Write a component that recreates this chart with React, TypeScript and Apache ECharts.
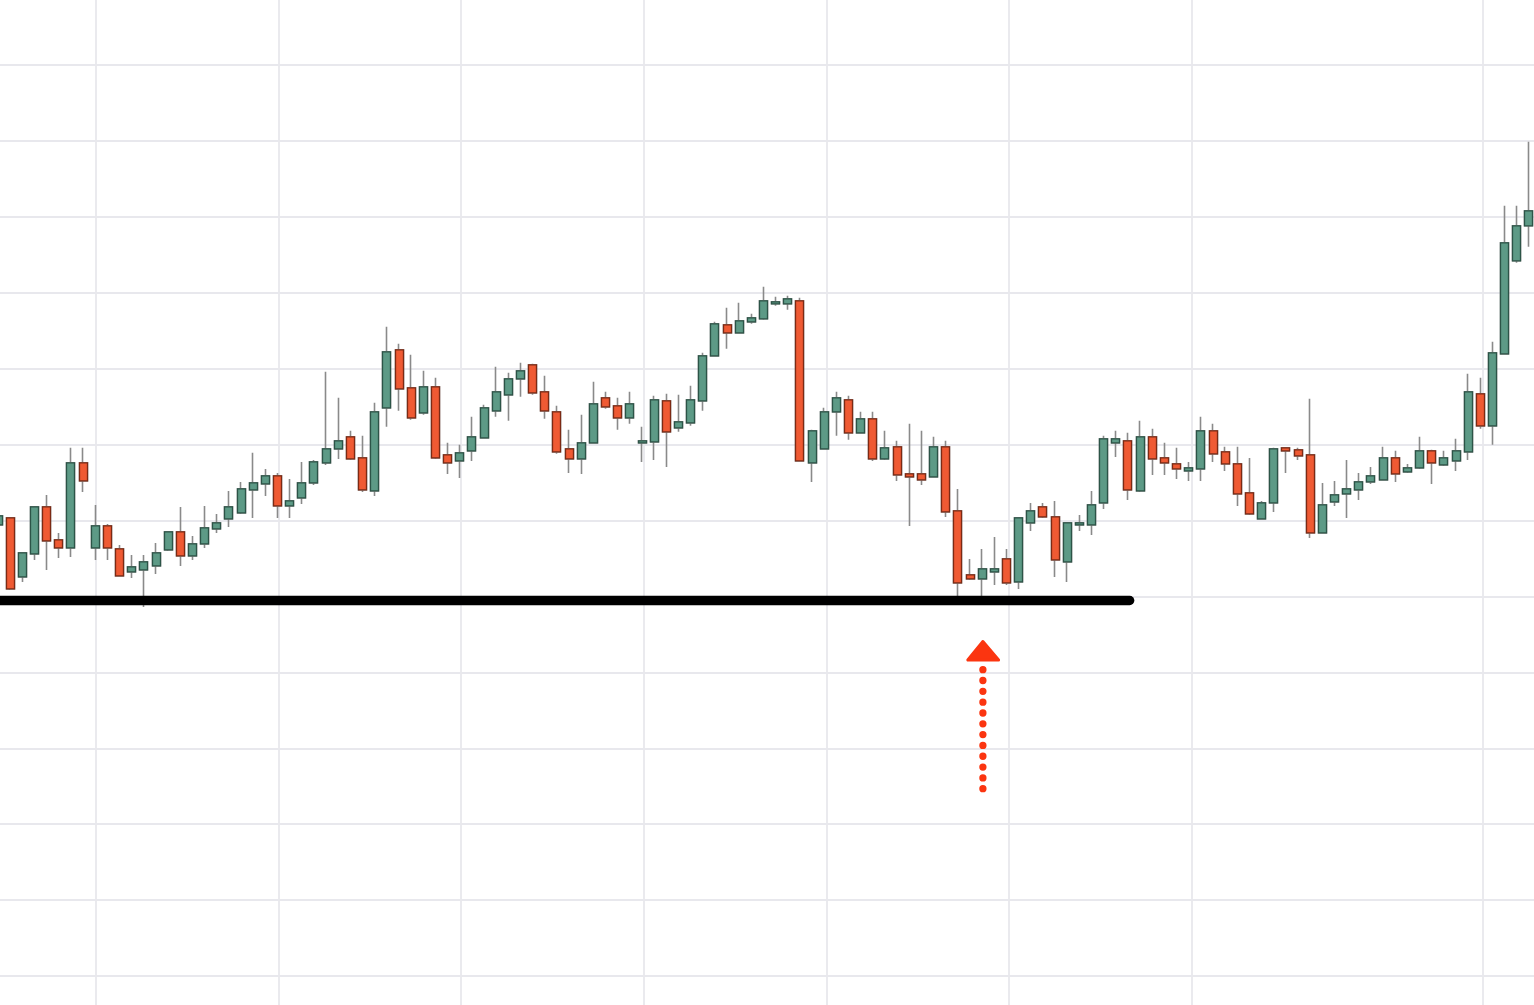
import { useEffect, useRef } from "react";
import * as echarts from "echarts";

// OHLC candles, oldest first (price units: 10 px per unit on screen)
const opens = [
  45.1, 45.8, 39.9, 42.2, 46.9, 43.6, 42.8, 51.3, 42.8, 45.0,
  42.7, 40.4, 40.6, 41.0, 42.6, 44.4, 42.0, 43.2, 44.7, 45.7,
  46.3, 48.6, 49.2, 50.0, 47.0, 47.8, 49.3, 51.3, 52.7, 53.9,
  51.8, 48.5, 56.8, 62.6, 58.8, 56.3, 58.9, 52.1, 51.5, 52.5,
  53.8, 56.5, 58.1, 59.7, 61.1, 58.4, 56.4, 52.7, 51.7, 53.3,
  57.8, 57.0, 55.8, 53.3, 53.4, 57.5, 54.8, 55.3, 57.5, 62.0,
  65.1, 64.3, 65.4, 65.7, 67.2, 67.2, 67.5, 51.3, 52.7, 56.4,
  57.6, 54.3, 55.7, 51.7, 52.9, 50.2, 50.2, 49.9, 52.9, 46.5,
  40.1, 39.7, 40.4, 41.7, 39.4, 45.3, 46.9, 45.9, 41.4, 45.1,
  45.1, 47.3, 53.3, 53.5, 48.5, 53.9, 51.8, 51.2, 50.5, 50.7,
  54.5, 52.4, 51.2, 48.3, 45.7, 47.3, 52.8, 52.6, 52.1, 44.3,
  47.4, 48.2, 48.6, 49.4, 49.6, 51.8, 50.4, 50.8, 52.5, 51.1,
  51.5, 52.4, 58.2, 55.0, 62.2, 71.5, 75.0,
];

const closes = [
  46.0, 38.7, 42.3, 46.9, 43.5, 42.8, 51.3, 49.5, 45.0, 42.8,
  40.0, 40.9, 41.4, 42.3, 44.4, 42.0, 43.2, 44.8, 45.3, 46.9,
  48.7, 49.3, 50.0, 47.0, 47.5, 49.3, 51.4, 52.7, 53.5, 51.7,
  48.6, 56.4, 62.4, 58.7, 55.8, 58.9, 51.8, 51.3, 52.3, 53.9,
  56.8, 58.4, 59.7, 60.5, 58.3, 56.5, 52.4, 51.7, 53.3, 57.2,
  56.9, 55.8, 57.2, 53.5, 57.6, 54.4, 55.4, 57.6, 62.0, 65.2,
  64.3, 65.5, 65.8, 67.5, 67.4, 67.7, 51.5, 54.5, 56.4, 57.8,
  54.3, 55.7, 51.7, 52.8, 50.1, 49.9, 49.6, 52.9, 46.4, 39.3,
  39.7, 40.7, 40.7, 39.3, 45.8, 46.5, 45.9, 41.6, 45.3, 45.3,
  47.1, 53.7, 53.7, 48.6, 53.9, 51.7, 51.3, 50.7, 50.8, 54.5,
  52.2, 51.2, 48.2, 46.2, 47.3, 52.7, 52.5, 52.0, 44.3, 47.1,
  48.1, 48.7, 49.4, 50.0, 51.8, 50.2, 50.8, 52.5, 51.3, 51.8,
  52.5, 58.4, 55.0, 62.3, 73.3, 75.0, 76.5,
];

const lows = [
  44.8, 38.6, 39.4, 41.6, 40.6, 41.8, 41.9, 48.4, 41.6, 41.6,
  40.0, 39.8, 36.9, 40.2, 42.5, 41.0, 41.6, 42.8, 44.3, 44.9,
  46.2, 45.8, 48.0, 45.8, 45.8, 47.2, 49.1, 51.1, 51.7, 51.6,
  48.4, 48.0, 54.9, 56.5, 55.6, 56.1, 51.7, 50.2, 49.8, 51.5,
  53.8, 55.9, 55.5, 57.9, 58.1, 55.7, 52.2, 50.3, 50.2, 53.2,
  56.7, 54.6, 55.2, 51.4, 51.6, 50.9, 54.4, 55.0, 56.5, 61.9,
  62.7, 64.3, 65.2, 65.6, 67.0, 66.6, 51.5, 49.4, 52.6, 54.0,
  53.6, 54.2, 51.5, 51.6, 49.5, 45.0, 49.1, 49.9, 45.9, 37.9,
  39.6, 37.9, 39.1, 39.1, 38.7, 44.5, 45.8, 39.9, 39.4, 44.5,
  44.1, 46.7, 51.9, 47.6, 48.4, 50.1, 50.1, 49.7, 49.5, 49.5,
  51.4, 50.5, 47.0, 46.1, 45.7, 46.4, 50.3, 51.6, 43.8, 44.3,
  47.0, 45.8, 47.6, 49.2, 49.6, 49.4, 50.3, 50.7, 49.2, 51.0,
  50.5, 51.6, 54.7, 53.1, 62.1, 71.3, 72.9,
];

const highs = [
  46.3, 45.9, 42.3, 47.0, 48.1, 44.3, 52.8, 52.8, 47.1, 45.2,
  43.1, 42.1, 42.1, 43.3, 44.5, 46.9, 44.0, 47.0, 46.2, 48.5,
  49.4, 52.3, 50.7, 50.3, 49.7, 51.4, 51.6, 60.4, 57.8, 54.5,
  54.0, 57.3, 64.9, 63.2, 62.1, 60.5, 59.8, 53.3, 53.1, 55.9,
  57.1, 60.9, 60.3, 61.3, 61.2, 60.0, 57.0, 54.6, 56.1, 59.4,
  58.4, 57.8, 58.4, 54.9, 58.0, 58.2, 58.1, 59.0, 62.3, 65.4,
  66.8, 67.3, 66.2, 68.9, 67.9, 68.0, 67.8, 54.6, 56.8, 58.4,
  58.0, 56.4, 56.4, 54.5, 53.5, 55.2, 54.5, 53.9, 53.5, 48.7,
  41.7, 42.7, 43.9, 42.7, 45.9, 47.3, 47.3, 47.5, 45.4, 46.1,
  48.5, 54.0, 54.5, 54.3, 55.5, 54.7, 53.3, 52.8, 51.4, 55.9,
  55.2, 52.9, 52.9, 51.8, 47.5, 52.8, 52.8, 52.8, 57.7, 49.3,
  49.5, 51.6, 50.3, 50.9, 52.9, 52.5, 51.2, 53.9, 52.6, 52.5,
  53.7, 60.2, 59.8, 63.4, 77.0, 77.0, 83.4,
];

// Candle labels (bar numbers)
const categories = opens.map((_, i) => String(i + 1));

// Session separators, in bar-index units
const sessionMarks = [8.08, 23.14, 38.12, 53.18, 68.24, 83.22, 98.28, 122.23];

// Support level and the bar where the drawn line stops
const supportLevel = 37.57;
const supportFrom = -0.5;
const supportTo = 93.14;

const UP_FILL = "#5d9a86";
const UP_EDGE = "#2c5447";
const DOWN_FILL = "#ef5a33";
const DOWN_EDGE = "#7c2a14";
const WICK = "#8a8a8a";
const GRID = "#e8e8ed";
const ARROW = "#fb3510";

// The plot is a little larger than the visible frame, so the first and
// last bars and the outer gridlines are clipped by the frame's edges.
const PLOT_LEFT = -8.2;
const PLOT_TOP = -10.7;
const PLOT_WIDTH = 1543.05;
const PLOT_HEIGHT = 1062.6;

export default function App() {
  const ref = useRef<HTMLDivElement>(null);

  useEffect(() => {
    if (!ref.current) return;
    const chart = echarts.init(ref.current, null, { renderer: "svg" });

    const full = opens.map((o, i) => [o, closes[i], lows[i], highs[i]]);
    const bodies = opens.map((o, i) => [
      o,
      closes[i],
      Math.min(o, closes[i]),
      Math.max(o, closes[i]),
    ]);

    // arrow position in frame pixels
    const ax = 982.7 - PLOT_LEFT;
    const ay = -PLOT_TOP;

    chart.setOption({
      animation: false,
      backgroundColor: "#ffffff",
      grid: { left: 0, right: 0, top: 0, bottom: 0, containLabel: false },
      xAxis: [
        {
          type: "category",
          data: categories,
          boundaryGap: true,
          axisLine: { show: false },
          axisTick: { show: false },
          axisLabel: { show: false },
          splitLine: { show: false },
        },
        { type: "value", min: -0.5, max: 126.5, show: false },
      ],
      yAxis: {
        type: "value",
        min: -7.59,
        max: 98.67,
        interval: 7.59,
        axisLine: { show: false },
        axisTick: { show: false },
        axisLabel: { show: false },
        splitLine: { show: true, lineStyle: { color: GRID, width: 1.8 } },
      },
      series: [
        {
          type: "line",
          xAxisIndex: 1,
          data: [],
          silent: true,
          z: 1,
          markLine: {
            z: 1,
            silent: true,
            symbol: ["none", "none"],
            label: { show: false },
            emphasis: { disabled: true },
            lineStyle: { color: GRID, width: 1.8, type: "solid" },
            data: sessionMarks.map((v) => ({ xAxis: v })),
          },
        },
        {
          type: "candlestick",
          z: 3,
          barWidth: 8.5,
          data: full,
          silent: true,
          itemStyle: {
            color: UP_FILL,
            color0: DOWN_FILL,
            borderColor: WICK,
            borderColor0: WICK,
            borderWidth: 1.6,
          },
        },
        {
          type: "candlestick",
          z: 4,
          barWidth: 8.5,
          data: bodies,
          silent: true,
          itemStyle: {
            color: UP_FILL,
            color0: DOWN_FILL,
            borderColor: UP_EDGE,
            borderColor0: DOWN_EDGE,
            borderWidth: 1.3,
          },
        },
        {
          type: "line",
          xAxisIndex: 1,
          data: [],
          silent: true,
          z: 10,
          markLine: {
            z: 10,
            silent: true,
            symbol: ["none", "none"],
            label: { show: false },
            emphasis: { disabled: true },
            lineStyle: { color: "#000000", width: 9.3, type: "solid", cap: "round" },
            data: [
              [
                { coord: [supportFrom, supportLevel] },
                { coord: [supportTo, supportLevel] },
              ],
            ],
          },
        },
      ],
      graphic: [
        {
          type: "line",
          z: 20,
          silent: true,
          shape: { x1: ax, y1: ay + 670, x2: ax, y2: ay + 789.5 },
          style: { stroke: ARROW, lineWidth: 7.3, lineDash: [0, 10.82], lineCap: "round" },
        },
        {
          type: "polygon",
          z: 20,
          silent: true,
          shape: {
            points: [
              [ax, ay + 641.8],
              [ax - 15.1, ay + 660.3],
              [ax + 15.7, ay + 660.3],
            ],
          },
          style: { fill: ARROW, stroke: ARROW, lineWidth: 3, lineJoin: "round" },
        },
      ],
    });

    return () => chart.dispose();
  }, []);

  return (
    <div
      style={{
        position: "fixed",
        left: 0,
        top: 0,
        width: 1534,
        height: 1005,
        overflow: "hidden",
        background: "#fff",
      }}
    >
      <div
        ref={ref}
        style={{
          position: "absolute",
          left: PLOT_LEFT,
          top: PLOT_TOP,
          width: PLOT_WIDTH,
          height: PLOT_HEIGHT,
        }}
      />
    </div>
  );
}
